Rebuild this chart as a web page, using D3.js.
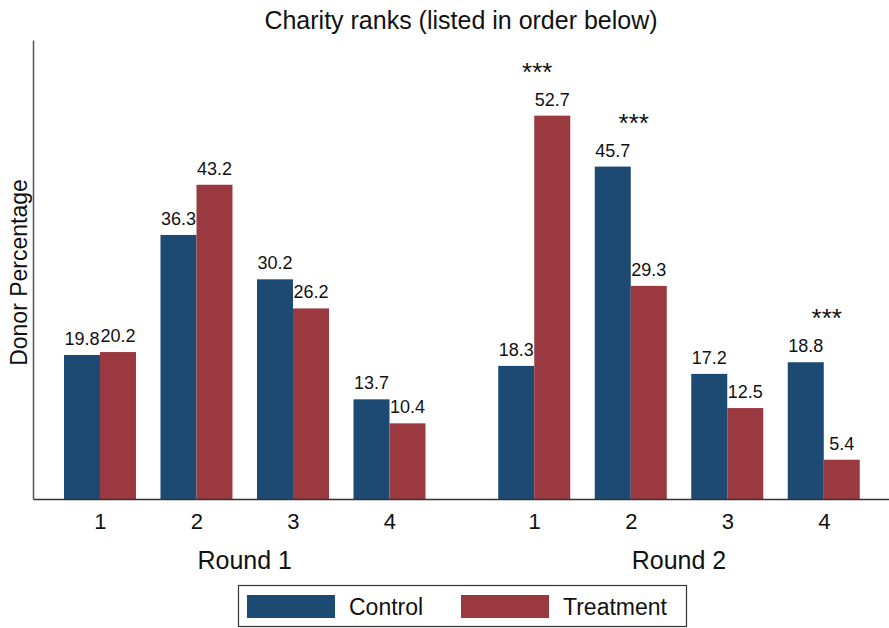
<!DOCTYPE html>
<html>
<head>
<meta charset="utf-8">
<script src="https://cdn.jsdelivr.net/npm/d3@7"></script>
<style>
  body { margin: 0; background: #fff; }
  text { font-family: "Liberation Sans", Arial, sans-serif; fill: #111; }
</style>
</head>
<body>
<svg id="chart"></svg>
<script>
// charity ranks, two rounds
const rounds = ["Round 1", "Round 2"];
const ranks = ["1", "2", "3", "4"];
const series = ["Control", "Treatment"];
const control = [[19.8, 36.3, 30.2, 13.7], [18.3, 45.7, 17.2, 18.8]];
const treatment = [[20.2, 43.2, 26.2, 10.4], [52.7, 29.3, 12.5, 5.4]];
// significance markers: [round index, rank index]
const stars = [[1, 0], [1, 1], [1, 3]];

const width = 889, height = 628;
const colors = ["#1d4a72", "#9a3940"];

const svg = d3.select("#chart")
    .attr("width", width)
    .attr("height", height);

// slot of each group on the x line; round 2 starts after a half gap
const slot = (r, k) => r * 4.5 + k;

const x = d3.scaleLinear()
    .domain([-0.694, 8.176])
    .range([33, 889]);

const y = d3.scaleLinear()
    .domain([0, 63.1])
    .range([499, 40]);

const barW = 36;

const bars = [];
rounds.forEach((rd, r) => {
    ranks.forEach((rk, k) => {
        bars.push({r, k, s: 0, v: control[r][k]});
        bars.push({r, k, s: 1, v: treatment[r][k]});
    });
});

svg.selectAll("rect.bar")
    .data(bars)
  .enter().append("rect")
    .attr("class", "bar")
    .attr("x", d => x(slot(d.r, d.k)) - barW + d.s * barW)
    .attr("width", barW)
    .attr("y", d => y(d.v))
    .attr("height", d => y(0) - y(d.v))
    .attr("fill", d => colors[d.s]);

svg.selectAll("text.val")
    .data(bars)
  .enter().append("text")
    .attr("class", "val")
    .attr("x", d => x(slot(d.r, d.k)) - barW / 2 + d.s * barW)
    .attr("y", d => y(d.v) - 10)
    .attr("text-anchor", "middle")
    .style("font-size", "18px")
    .text(d => d.v.toFixed(1));

svg.selectAll("text.star")
    .data(stars)
  .enter().append("text")
    .attr("class", "star")
    .attr("x", d => x(slot(d[0], d[1])) + 3)
    .attr("y", d => y(Math.max(control[d[0]][d[1]], treatment[d[0]][d[1]])) - 35)
    .attr("text-anchor", "middle")
    .style("font-size", "26px")
    .text("***");

// axes
const tickSlots = [];
rounds.forEach((rd, r) => ranks.forEach((rk, k) => tickSlots.push({s: slot(r, k), t: rk})));

const xAxis = svg.append("g")
    .attr("transform", `translate(0,${y(0)})`)
    .call(d3.axisBottom(x)
        .tickValues(tickSlots.map(d => d.s))
        .tickFormat((d, i) => tickSlots[i].t)
        .tickSize(0)
        .tickPadding(14)
        .tickSizeOuter(0));
xAxis.select(".domain").attr("stroke", "#333").attr("stroke-width", 1.5);
xAxis.selectAll("text")
    .style("font-size", "22px")
    .style("font-family", "Liberation Sans, Arial, sans-serif")
    .attr("fill", "#111");

const yAxis = svg.append("g")
    .attr("transform", `translate(${x.range()[0]},0)`)
    .call(d3.axisLeft(y).tickValues([]).tickSizeOuter(0));
yAxis.select(".domain").attr("stroke", "#555").attr("stroke-width", 1.5);

// round labels
svg.selectAll("text.round")
    .data(rounds)
  .enter().append("text")
    .attr("class", "round")
    .attr("x", (d, r) => (x(slot(r, 0)) + x(slot(r, 3))) / 2)
    .attr("y", 569)
    .attr("text-anchor", "middle")
    .style("font-size", "25px")
    .text(d => d);

// title and y label
svg.append("text")
    .attr("x", (x.range()[0] + x.range()[1]) / 2)
    .attr("y", 29)
    .attr("text-anchor", "middle")
    .style("font-size", "25px")
    .text("Charity ranks (listed in order below)");

svg.append("text")
    .attr("transform", `translate(27,${(y(0) + y.range()[1]) / 2 + 3}) rotate(-90)`)
    .attr("text-anchor", "middle")
    .style("font-size", "23px")
    .text("Donor Percentage");

// legend
const legend = svg.append("g");
legend.append("rect")
    .attr("x", 238.5).attr("y", 585.5)
    .attr("width", 448).attr("height", 41)
    .attr("fill", "none")
    .attr("stroke", "#333")
    .attr("stroke-width", 1.2);

const legX = [247, 461];
series.forEach((s, i) => {
    legend.append("rect")
        .attr("x", legX[i]).attr("y", 595)
        .attr("width", 88).attr("height", 23)
        .attr("fill", colors[i]);
    legend.append("text")
        .attr("x", legX[i] + 102).attr("y", 615)
        .style("font-size", "23px")
        .text(s);
});
</script>
</body>
</html>
